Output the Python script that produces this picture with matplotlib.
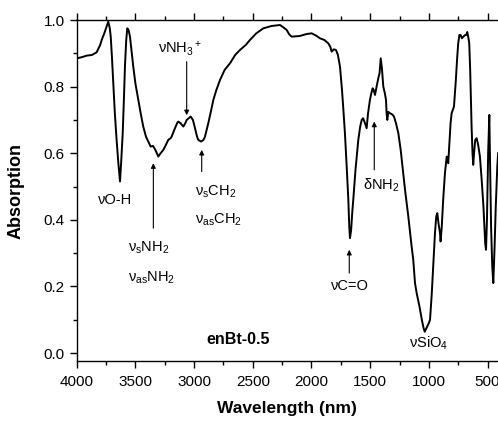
import matplotlib
matplotlib.use('Agg')
import matplotlib.pyplot as plt
from matplotlib.ticker import MultipleLocator

plt.rcParams['font.family'] = ['Liberation Sans', 'DejaVu Sans']
plt.rcParams['mathtext.fontset'] = 'custom'
plt.rcParams['mathtext.rm'] = 'Liberation Sans'
plt.rcParams['mathtext.it'] = 'Liberation Sans'

# spectrum
wavelength = [4000, 3960, 3915, 3870, 3830, 3800, 3787, 3765, 3750, 3731, 3718, 3710, 3700, 3688,
              3675, 3660, 3645, 3631, 3620, 3608, 3598, 3589, 3578, 3569, 3558, 3546, 3530, 3518,
              3500, 3475, 3455, 3433, 3410, 3390, 3370, 3350, 3330, 3305, 3285, 3262, 3240, 3220,
              3200, 3191, 3163, 3145, 3135, 3115, 3092, 3075, 3063, 3045, 3029, 3010, 2992, 2975,
              2964, 2941, 2920, 2907, 2879, 2860, 2836, 2810, 2779, 2740, 2694, 2650, 2609, 2560,
              2524, 2470, 2410, 2340, 2268, 2240, 2211, 2190, 2169, 2100, 2040, 1998, 1960, 1927,
              1890, 1857, 1840, 1828, 1810, 1791, 1775, 1757, 1740, 1728, 1715, 1700, 1686, 1678,
              1672, 1662, 1653, 1644, 1625, 1601, 1585, 1572, 1560, 1544, 1530, 1518, 1502, 1490,
              1479, 1470, 1459, 1445, 1431, 1420, 1410, 1400, 1388, 1375, 1365, 1360, 1354, 1345,
              1331, 1310, 1297, 1280, 1260, 1240, 1218, 1203, 1175, 1150, 1133, 1118, 1104, 1080,
              1060, 1045, 1035, 1020, 1000, 990, 975, 960, 948, 937, 928, 918, 905, 900, 890, 878,
              863, 848, 840, 835, 825, 815, 806, 786, 770, 760, 750, 740, 730, 718, 707, 690, 680,
              673, 665, 656, 648, 640, 636, 628, 622, 615, 605, 593, 580, 565, 550, 535, 520, 513,
              505, 495, 485, 478, 470, 460, 451, 440, 430, 417, 410]
absorption = [0.885, 0.888, 0.893, 0.895, 0.903, 0.925, 0.94, 0.96, 0.975, 0.995, 0.975, 0.95, 0.89, 0.81,
              0.72, 0.64, 0.57, 0.515, 0.58, 0.66, 0.76, 0.86, 0.94, 0.975, 0.97, 0.95, 0.90, 0.86,
              0.81, 0.76, 0.72, 0.68, 0.65, 0.635, 0.62, 0.622, 0.61, 0.59, 0.60, 0.61, 0.625, 0.64,
              0.645, 0.65, 0.675, 0.69, 0.695, 0.69, 0.68, 0.69, 0.70, 0.705, 0.71, 0.70, 0.675, 0.65,
              0.64, 0.635, 0.64, 0.65, 0.69, 0.72, 0.76, 0.79, 0.82, 0.85, 0.87, 0.895, 0.91, 0.925,
              0.94, 0.96, 0.975, 0.982, 0.985, 0.978, 0.97, 0.957, 0.95, 0.952, 0.958, 0.96, 0.953, 0.945,
              0.94, 0.93, 0.92, 0.905, 0.912, 0.91, 0.895, 0.86, 0.79, 0.73, 0.66, 0.56, 0.46, 0.38,
              0.345, 0.37, 0.42, 0.46, 0.55, 0.64, 0.68, 0.70, 0.705, 0.69, 0.675, 0.72, 0.76, 0.78,
              0.795, 0.79, 0.775, 0.80, 0.825, 0.84, 0.885, 0.855, 0.80, 0.78, 0.76, 0.72, 0.70, 0.724,
              0.72, 0.716, 0.71, 0.69, 0.66, 0.61, 0.54, 0.49, 0.41, 0.33, 0.28, 0.21, 0.18, 0.14,
              0.10, 0.075, 0.064, 0.075, 0.09, 0.10, 0.18, 0.28, 0.36, 0.41, 0.42, 0.39, 0.36, 0.335, 0.38, 0.46,
              0.54, 0.59, 0.585, 0.57, 0.63, 0.69, 0.72, 0.74, 0.82, 0.88, 0.93, 0.955, 0.955, 0.945, 0.95, 0.955, 0.955,
              0.964, 0.95, 0.93, 0.85, 0.73, 0.68, 0.60, 0.565, 0.60, 0.64, 0.645, 0.625, 0.59, 0.52, 0.44, 0.33,
              0.31, 0.40, 0.60, 0.715, 0.55, 0.38, 0.26, 0.21, 0.32, 0.44, 0.56, 0.60]

fig = plt.figure(figsize=(4.98, 4.22), dpi=100)
ax = fig.add_axes([0.154, 0.1445, 0.846, 0.8081])

ax.plot(wavelength, absorption, color='black', lw=1.4)

ax.set_xlim(4000, 411)
ax.set_ylim(-0.024, 1.0)
ax.xaxis.set_major_locator(MultipleLocator(500))
ax.xaxis.set_minor_locator(MultipleLocator(250))
ax.yaxis.set_major_locator(MultipleLocator(0.2))
ax.yaxis.set_minor_locator(MultipleLocator(0.1))
ax.yaxis.set_major_formatter(matplotlib.ticker.FormatStrFormatter('%.1f'))
ax.tick_params(which='both', direction='out', top=True, labelsize=11, width=1.0)
ax.tick_params(which='major', length=5)
ax.tick_params(which='minor', length=3)
ax.tick_params(axis='x', which='major', pad=5)
ax.spines['right'].set_visible(False)
for s in ['left', 'bottom', 'top']:
    ax.spines[s].set_linewidth(1.0)

ax.set_xlabel('Wavelength (nm)', fontsize=12.5, fontweight='bold', labelpad=9)
ax.set_ylabel('Absorption', fontsize=13, fontweight='bold', labelpad=14)

arr = dict(arrowstyle='-|>', color='black', lw=0.8, mutation_scale=7, shrinkA=0, shrinkB=0)
fs = 10.5

# band labels
ax.text(3673, 0.46, 'νO-H', fontsize=fs, ha='center', va='center')
ax.annotate('', xy=(3063, 0.714), xytext=(3063, 0.875), arrowprops=arr)
ax.text(3118, 0.915, 'νNH$_3$$^+$', fontsize=fs, ha='center', va='center')
ax.annotate('', xy=(3347, 0.57), xytext=(3347, 0.375), arrowprops=arr)
ax.text(3562, 0.315, 'ν$_\\mathrm{s}$NH$_2$', fontsize=fs, ha='left', va='center')
ax.text(3562, 0.225, 'ν$_\\mathrm{as}$NH$_2$', fontsize=fs, ha='left', va='center')
ax.annotate('', xy=(2935, 0.61), xytext=(2935, 0.545), arrowprops=arr)
ax.text(2990, 0.485, 'ν$_\\mathrm{s}$CH$_2$', fontsize=fs, ha='left', va='center')
ax.text(2990, 0.40, 'ν$_\\mathrm{as}$CH$_2$', fontsize=fs, ha='left', va='center')
ax.annotate('', xy=(1465, 0.695), xytext=(1465, 0.55), arrowprops=arr)
ax.text(1408, 0.505, 'δNH$_2$', fontsize=fs, ha='center', va='center')
ax.annotate('', xy=(1678, 0.31), xytext=(1678, 0.24), arrowprops=arr)
ax.text(1673, 0.20, 'νC=O', fontsize=fs, ha='center', va='center')
ax.text(1005, 0.03, 'νSiO$_4$', fontsize=fs, ha='center', va='center')

ax.text(2626, 0.04, 'enBt-0.5', fontsize=11.5, fontweight='bold', ha='center', va='center')

fig.savefig('out.png', dpi=100)
